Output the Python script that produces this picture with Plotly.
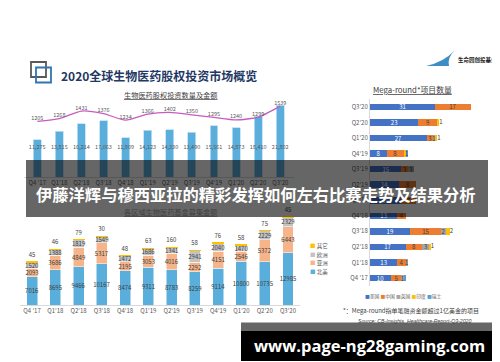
import plotly.graph_objects as go

W, H = 500, 362


def px(x):
    return x / W


def py(y):
    return 1 - y / H


# ---------------- data ----------------
quarters = ["Q4 '17", "Q1'18", "Q2'18", "Q3'18", "Q4'18", "Q1'19", "Q2'19",
            "Q3'19", "Q4'19", "Q1'20", "Q2'20", "Q3'20"]

deal_amount = [11275, 13815, 16214, 17063, 11909, 14123, 14330, 13490, 15561, 14873, 18410, 21802]
deal_count = [1205, 1268, 1431, 1376, 1234, 1366, 1402, 1350, 1295, 1240, 1299, 1539]

fund_na = [7016, 8695, 9466, 10167, 8474, 9311, 8783, 8259, 9114, 10800, 10735, 12985]
fund_asia = [2093, 3686, 4849, 5317, 2195, 3053, 4016, 2292, 4151, 2546, 5372, 6443]
fund_eu = [1520, 1388, 1819, 1549, 1472, 1686, 1341, 2941, 2040, 1470, 2229, 2329]
fund_other = [45, 46, 79, 30, 48, 63, 160, 58, 76, 58, 75, 45]

mega_us = [10, 13, 17, 19, 13, 15, 14, 15, 8, 27, 23, 31]
mega_cn = [5, 4, 8, 15, 4, 7, 8, 3, 8, 3, 9, 17]
mega_uk = [1, 1, 3, 2, 0, 0, 0, 3, 0, 1, 0, 0]
mega_in = [0, 0, 1, 2, 0, 0, 0, 0, 1, 1, 1, 0]
mega_ch = [1, 0, 0, 0, 0, 0, 0, 0, 1, 0, 0, 0]

CJK = "Noto Sans CJK SC"
LBL = "#404040"

fig = go.Figure()

# ---------------- chart 1: deals amount + count ----------------
fig.add_trace(go.Bar(x=quarters, y=deal_amount, width=0.36, marker=dict(color="#5AAEDB", line=dict(color="#BFE0F2", width=0.8)),
                     xaxis="x", yaxis="y", showlegend=False, hoverinfo="skip"))
label_level = max(deal_amount) * 0.41
fig.add_trace(go.Scatter(x=quarters, y=[label_level] * len(quarters), mode="text",
                         text=[f"{v:,}" for v in deal_amount], textfont=dict(size=5.5, color="#595959", family=CJK),
                         xaxis="x", yaxis="y", showlegend=False, hoverinfo="skip"))
fig.add_trace(go.Scatter(x=quarters, y=deal_count, mode="lines+text", line=dict(color="#C75BC1", width=1.3, shape="spline", smoothing=0.6),
                         text=[str(v) for v in deal_count], textposition="top center",
                         textfont=dict(size=5.5, color="#595959", family=CJK),
                         xaxis="x", yaxis="y2", showlegend=False, hoverinfo="skip", cliponaxis=False))

# ---------------- chart 2: fund raising by region ----------------
c2 = [("北美", fund_na, "#5AAEDB"), ("亚洲", fund_asia, "#F6B48A"), ("欧洲", fund_eu, "#C3C3C3")]
for name, vals, col in c2:
    fig.add_trace(go.Bar(x=quarters, y=vals, name=name, width=0.47,
                         marker=dict(color=col, line=dict(color="white", width=0.5)),
                         text=[str(v) for v in vals], textposition="inside", insidetextanchor="middle",
                         constraintext="none", textangle=0, textfont=dict(size=6, color=LBL, family=CJK),
                         xaxis="x3", yaxis="y3", showlegend=False, hoverinfo="skip"))
fig.add_trace(go.Bar(x=quarters, y=fund_other, name="其它", width=0.47,
                     marker=dict(color="#FFC000", line=dict(color="#FFC000", width=1)),
                     text=[str(v) for v in fund_other], textposition="outside", constraintext="none", textangle=0,
                     textfont=dict(size=6, color=LBL, family=CJK), cliponaxis=False,
                     xaxis="x3", yaxis="y3", showlegend=False, hoverinfo="skip"))

# ---------------- chart 3: mega rounds ----------------
def txt(vals, cond=None):
    out = []
    for i, v in enumerate(vals):
        ok = v > 0 and (cond is None or cond[i])
        out.append(str(v) if ok else "")
    return out

c3 = [
    ("美国", mega_us, "#4472C4", txt(mega_us), "white"),
    ("中国", mega_cn, "#ED7D31", txt(mega_cn), LBL),
    ("英国", mega_uk, "#A5A5A5", txt(mega_uk), LBL),
    ("印度", mega_in, "#FFC000", [""] * len(mega_in), LBL),
    ("瑞士", mega_ch, "#5B9BD5", txt(mega_ch, [u == 0 for u in mega_uk]), LBL),
]
for name, vals, col, t, tc in c3:
    fig.add_trace(go.Bar(y=quarters, x=vals, name=name, orientation="h", width=0.42,
                         marker=dict(color=col, line=dict(width=0)),
                         text=t, textposition="inside", insidetextanchor="middle", constraintext="none", textangle=0,
                         textfont=dict(size=6, color=tc, family=CJK),
                         xaxis="x4", yaxis="y4", showlegend=False, hoverinfo="skip"))
totals = [a + b + c + d + e for a, b, c, d, e in zip(mega_us, mega_cn, mega_uk, mega_in, mega_ch)]
fig.add_trace(go.Scatter(y=quarters, x=totals, mode="text",
                         text=[str(v) if (v > 0 and s == 0) else "" for v, s in zip(mega_in, mega_ch)],
                         textposition="middle right", textfont=dict(size=6, color=LBL, family=CJK),
                         xaxis="x4", yaxis="y4", showlegend=False, hoverinfo="skip", cliponaxis=False))

tickfont = dict(size=6, color="#595959", family=CJK)

fig.update_layout(
    width=W, height=H, margin=dict(l=0, r=0, t=0, b=0),
    paper_bgcolor="white", plot_bgcolor="white", barmode="stack",
    font=dict(family=CJK),
    xaxis=dict(domain=[px(15.75), px(285.75)], anchor="y", type="category", categoryorder="array",
               categoryarray=quarters, showline=True, linecolor="#D9D9D9", ticks="", tickfont=tickfont,
               showgrid=False, fixedrange=True),
    yaxis=dict(domain=[py(169), py(92)], range=[0, 23337], visible=False, showgrid=False),
    yaxis2=dict(overlaying="y", range=[0, 1671], visible=False, showgrid=False),
    xaxis3=dict(domain=[px(12.4), px(291.6)], anchor="y3", type="category", categoryorder="array",
                categoryarray=quarters, showline=True, linecolor="#D9D9D9", ticks="", tickfont=tickfont,
                showgrid=False),
    yaxis3=dict(domain=[py(297), py(205)], range=[0, 22793], visible=False, showgrid=False),
    xaxis4=dict(domain=[px(362), px(490)], anchor="y4", range=[0, 61], visible=False, showgrid=False),
    yaxis4=dict(domain=[py(277.8), py(91.2)], anchor="x4", type="category", categoryorder="array",
                categoryarray=quarters, range=[-0.5, 11.5], showline=True, linecolor="#D9D9D9", ticks="",
                tickfont=tickfont, showgrid=False),
)

shapes = [
    # title icon
    dict(type="rect", xref="paper", yref="paper", x0=px(23), x1=px(38), y0=py(69), y1=py(54),
         line=dict(color="#595959", width=1.8)),
    dict(type="rect", xref="paper", yref="paper", x0=px(28), x1=px(43), y0=py(74.5), y1=py(59.5),
         line=dict(color="#2E75B6", width=1.8)),
    # logo fin
    dict(type="path", xref="paper", yref="paper",
         path=f"M{px(418)},{py(58)} Q{px(436)},{py(54)} {px(446.5)},{py(42.5)} Q{px(439)},{py(50)} {px(441)},{py(58)} Z",
         fillcolor="#3D8EC4", line=dict(width=0)),
    # overlay banner
    dict(type="rect", xref="paper", yref="paper", x0=px(18), x1=px(480), y0=py(209), y1=py(152),
         fillcolor="rgba(0,0,0,0.6)", line=dict(width=0), layer="above"),
    # bottom banner
    dict(type="rect", xref="paper", yref="paper", x0=px(233), x1=px(491), y0=py(323), y1=py(314.5),
         fillcolor="rgba(0,0,0,0.6)", line=dict(width=0), layer="above"),
    dict(type="rect", xref="paper", yref="paper", x0=px(233), x1=px(491), y0=py(353), y1=py(323),
         fillcolor="black", line=dict(width=0), layer="above"),
]

U = "<span style='text-decoration:underline'>{}</span>"
ann = [
    dict(text="<b>2020全球生物医药股权投资市场概览</b>", x=px(51), y=py(68), xanchor="left",
         font=dict(size=12, color="#1F3864", family=CJK)),
    dict(text="<b>生命园创投基金</b>", x=px(448), y=py(52.5), xanchor="left",
         font=dict(size=5.5, color="#222222", family=CJK)),
    dict(text=U.format("生物医药股权投资数量及金额"), x=px(162), y=py(87),
         font=dict(size=7.2, color="#404040", family=CJK)),
    dict(text=U.format("各区域生物医药基金募集金额"), x=px(162), y=py(204),
         font=dict(size=7.2, color="#404040", family=CJK)),
    dict(text=U.format("Mega-round*项目数量"), x=px(404), y=py(82),
         font=dict(size=7.8, color="#404040", family=CJK)),
    dict(text="*：Mega-round指单笔融资金额超过1亿美金的项目", x=px(403), y=py(302),
         font=dict(size=6, color="#404040", family=CJK)),
    dict(text="<i>Source: CB-Insights_Healthcare-Report-Q3-2020</i>", x=px(406), y=py(312.5),
         font=dict(size=5.2, color="#404040", family="Liberation Sans")),
    dict(text="<span style='color:#4472C4'>■</span>美国 <span style='color:#ED7D31'>■</span>中国 "
              "<span style='color:#A5A5A5'>■</span>英国 <span style='color:#FFC000'>■</span>印度 "
              "<span style='color:#5B9BD5'>■</span>瑞士",
         x=px(395), y=py(288), font=dict(size=4.8, color="#595959", family=CJK)),
    dict(text="<b>伊藤洋辉与穆西亚拉的精彩发挥如何左右比赛走势及结果分析</b>", x=px(248), y=py(185.5),
         font=dict(size=16.3, color="white", family=CJK)),
    dict(text="<b>www.page-ng28gaming.com</b>", x=px(361.5), y=py(337.5),
         font=dict(size=16.5, color="white", family="Open Sans")),
]
leg2 = [("其它", "#FFC000", 238), ("欧洲", "#C3C3C3", 246.7), ("亚洲", "#F6B48A", 255.3), ("北美", "#5AAEDB", 264)]
for name, col, yy in leg2:
    ann.append(dict(text=f"<span style='color:{col}'>■</span> {name}", x=px(299.5), y=py(yy), xanchor="left",
                    font=dict(size=5.5, color="#595959", family=CJK)))
for a in ann:
    a.update(xref="paper", yref="paper", showarrow=False)
    a.setdefault("xanchor", "center")
    a.setdefault("yanchor", "middle")

fig.update_layout(shapes=shapes, annotations=ann)
fig.write_html("out.html", config={"displayModeBar": False})
